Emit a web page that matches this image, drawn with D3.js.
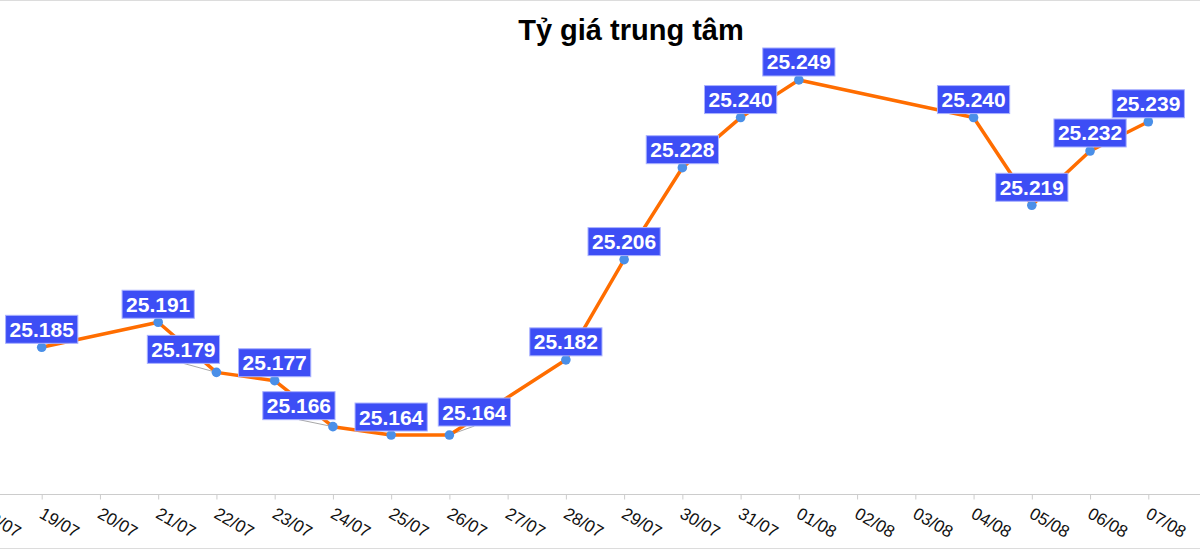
<!DOCTYPE html>
<html>
<head>
<meta charset="utf-8">
<script src="https://cdn.jsdelivr.net/npm/d3@7"></script>
<style>
  html, body { margin: 0; padding: 0; background: #fff; }
  svg { display: block; font-family: "Liberation Sans", Arial, sans-serif; }
</style>
</head>
<body>
<svg id="chart" width="1200" height="550"></svg>
<script>
// ---- data ----
const title = "Tỷ giá trung tâm";
const dates = ["19/07","21/07","22/07","23/07","24/07","25/07","26/07","28/07","29/07","30/07","31/07","01/08","04/08","05/08","06/08","07/08"];
const rates = [25.185,25.191,25.179,25.177,25.166,25.164,25.164,25.182,25.206,25.228,25.240,25.249,25.240,25.219,25.232,25.239];
const tickLabels = ["18/07","19/07","20/07","21/07","22/07","23/07","24/07","25/07","26/07","27/07","28/07","29/07","30/07","31/07","01/08","02/08","03/08","04/08","05/08","06/08","07/08"];
const year = 2025;

// label displacement (px) for colliding labels
const labelOffsets = [[0,0],[0,0],[-33,-5],[0,0],[-34,-3],[0,0],[25,-5],[0,0],[0,0],[0,0],[0,0],[0,0],[0,0],[0,0],[0,0],[0,0]];

const parse = s => { const [d, m] = s.split("/").map(Number); return new Date(year, m - 1, d); };
const fmtNum = v => v.toFixed(3);

const svg = d3.select("#chart");
const W = 1200, H = 550;

// frame lines
svg.append("line").attr("x1",0).attr("x2",W).attr("y1",0.5).attr("y2",0.5).attr("stroke","#dcdcdc");
svg.append("line").attr("x1",0).attr("x2",W).attr("y1",548.5).attr("y2",548.5).attr("stroke","#dcdcdc");

const x = d3.scaleTime()
  .domain([parse("19/07"), parse("07/08")])
  .range([41.7, 1148.3]);
const y = d3.scaleLinear()
  .domain([25.15, 25.25])
  .range([493.5, 75.8]);

const axisY = 494;

// axis
const axis = d3.axisBottom(x)
  .tickValues(tickLabels.map(parse))
  .tickFormat(d3.timeFormat("%d/%m"))
  .tickSize(5)
  .tickSizeOuter(0);
const gx = svg.append("g").attr("transform", `translate(0,${axisY})`).call(axis);
gx.attr("font-size", null).attr("font-family", null);
gx.select(".domain").remove();
gx.append("line").attr("x1",0).attr("x2",W).attr("y1",0.5).attr("y2",0.5).attr("stroke","#cccccc");
gx.selectAll(".tick line").attr("stroke","#cccccc").attr("transform","translate(0,0.5)");
gx.selectAll(".tick text")
  .attr("x", null).attr("y", null).attr("dy", null)
  .attr("text-anchor","start")
  .attr("transform","translate(-4,23) rotate(30)")
  .attr("fill","#111")
  .attr("font-size", 17)
  .style("font-size","17px")
  .style("font-family","'Liberation Sans', Arial, sans-serif");

// title
svg.append("text")
  .attr("x", 631).attr("y", 40)
  .attr("text-anchor","middle")
  .attr("font-weight","bold")
  .attr("font-size", 29)
  .attr("fill","#000")
  .text(title);

const pts = dates.map((d, i) => ({ date: parse(d), v: rates[i], off: labelOffsets[i] }));

const boxH = 28, gap = 4;

// leader lines
const leaders = svg.append("g");
pts.forEach(p => {
  if (p.off[0] !== 0 || p.off[1] !== 0) {
    const px = x(p.date), py = y(p.v);
    leaders.append("line")
      .attr("x1", px + p.off[0]).attr("y1", py - gap + p.off[1])
      .attr("x2", px).attr("y2", py)
      .attr("stroke","#a8a8a8").attr("stroke-width",1);
  }
});

// line
svg.append("path")
  .datum(pts)
  .attr("fill","none")
  .attr("stroke","#ff6d00")
  .attr("stroke-width",3.5)
  .attr("stroke-linejoin","round")
  .attr("d", d3.line().x(d => x(d.date)).y(d => y(d.v)));

// points
svg.append("g").selectAll("circle").data(pts).join("circle")
  .attr("cx", d => x(d.date)).attr("cy", d => y(d.v)).attr("r", 4.8)
  .attr("fill","#4a8fe8");

// labels
const lg = svg.append("g");
pts.forEach(p => {
  const cx = x(p.date) + p.off[0];
  const bottom = y(p.v) - gap + p.off[1];
  const g = lg.append("g");
  const rect = g.append("rect");
  const t = g.append("text")
    .attr("x", cx).attr("y", bottom - boxH + 21.5)
    .attr("text-anchor","middle")
    .attr("font-weight","bold")
    .attr("font-size",21)
    .attr("fill","#fff")
    .text(fmtNum(p.v));
  const w = t.node().getComputedTextLength() + 8;
  rect.attr("x", cx - w/2).attr("y", bottom - boxH).attr("width", w).attr("height", boxH)
    .attr("fill","#3d4ef5").attr("stroke","#aab2ff").attr("stroke-width",1);
});
</script>
</body>
</html>
